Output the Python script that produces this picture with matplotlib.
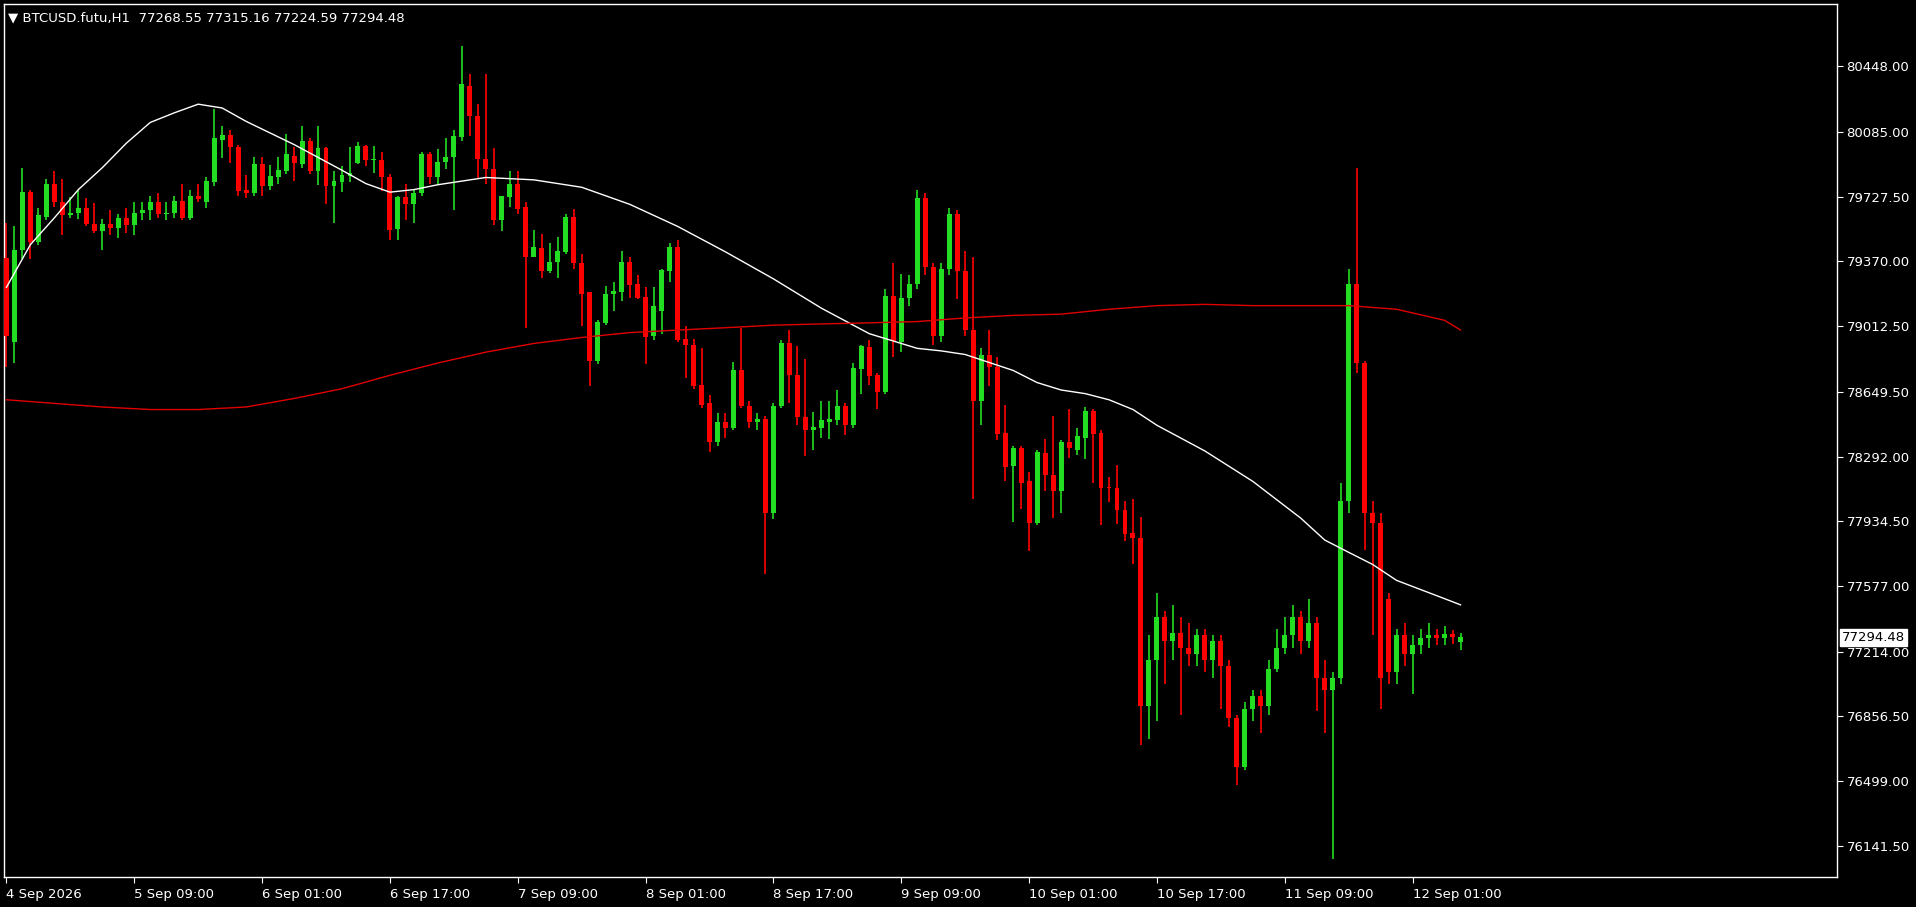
import matplotlib
matplotlib.use("Agg")
import matplotlib.pyplot as plt
import numpy as np

opens = [79389,78923,79436,79753,79476,79618,79800,79699,79625,79638,79665,79578,79537,79578,79557,79611,79571,79638,79652,79699,
79632,79638,79706,79611,79733,79699,79807,80043,80070,80003,79767,79746,79908,79787,79834,79868,79955,79908,80036,79868,
79996,79787,79807,79841,79915,80010,79928,79928,79834,79551,79726,79686,79746,79962,79834,79922,79949,80057,80340,80171,
79935,79881,79598,79726,79800,79672,79396,79443,79315,79369,79423,79618,79362,79200,78822,79031,79193,79200,79369,79247,
79173,78957,79099,79315,79450,78944,78910,78687,78586,78370,78485,78451,78768,78573,78485,78498,77979,78573,78917,78741,
78512,78438,78451,78485,78492,78573,78465,78775,78896,78741,78647,79180,78923,79166,79247,79719,79342,78957,79328,79632,
79315,78991,78600,78856,78789,78424,78242,78337,78155,77925,78310,78188,78101,78370,78330,78397,78546,78424,78121,78121,
77999,77871,77844,76913,77170,77406,77271,77318,77237,77204,77305,77170,77271,77136,76846,76576,76900,76967,76913,77116,
77237,77305,77406,77271,77372,77069,77001,77069,78047,79247,78809,77979,77925,77507,77102,77305,77204,77251,77291,77305,
77291,77311,77268.55]
highs = [79584,79564,79888,79767,79665,79827,79868,79827,79726,79767,79719,79692,79605,79652,79632,79665,79699,79699,79733,79746,
79699,79733,79800,79767,79800,79834,80212,80117,80097,80016,79848,79949,79949,79902,79949,80077,80003,80117,80050,80117,
80003,79868,79895,80003,80030,80016,80010,79976,79854,79733,79800,79773,79976,79976,79989,80050,80097,80562,80407,80239,
80407,79996,79733,79868,79868,79699,79544,79524,79470,79503,79632,79659,79409,79200,79045,79234,79254,79429,79396,79295,
79227,79227,79328,79470,79490,79011,78944,78890,78633,78532,78532,78816,79004,78600,78532,78519,78586,78937,78991,78903,
78829,78539,78600,78600,78660,78586,78809,78910,78937,78755,79220,79362,79301,79295,79767,79746,79362,79362,79665,79652,
79429,79396,78890,78991,78842,78579,78350,78350,78209,78330,78391,78519,78384,78553,78451,78566,78553,78438,78182,78243,
78047,78060,77959,77305,77541,77440,77473,77406,77372,77338,77338,77305,77305,77170,76866,76934,77001,77001,77170,77338,
77406,77473,77440,77507,77406,77170,77102,78148,79328,79888,78822,78047,77979,77541,77338,77372,77305,77338,77372,77338,
77358,77332,77315.16]
lows = [78789,78809,79383,79383,79463,79598,79672,79517,79611,79605,79564,79530,79436,79517,79497,79530,79517,79598,79598,79611,
79598,79611,79598,79598,79699,79665,79787,79942,79915,79733,79719,79733,79733,79767,79800,79854,79814,79888,79854,79794,
79686,79584,79753,79807,79908,79895,79861,79760,79490,79490,79598,79584,79733,79800,79800,79881,79652,80036,80063,79827,
79800,79571,79537,79672,79632,79004,79396,79281,79308,79281,79409,79328,79011,78681,78802,79018,79099,79153,79166,79160,
78802,78937,78971,79254,78923,78728,78667,78559,78316,78350,78397,78438,78559,78451,78438,77642,77946,78559,78586,78465,
78296,78330,78397,78391,78465,78411,78451,78640,78687,78553,78640,78842,78869,79126,79220,79295,78910,78923,79295,79160,
78957,78060,78465,78681,78384,78155,77932,78000,77770,77912,78101,77952,77979,78283,78303,78276,78148,77912,78040,77918,
77824,77696,76698,76731,76833,77035,77170,76866,77136,77136,77102,77069,76900,76799,76475,76563,76833,76765,76866,77102,
77204,77237,77204,77237,76887,76765,76070,77035,77979,78755,77777,77305,76900,77035,77035,77136,76981,77204,77237,77251,
77251,77258,77224.59]
closes = [78957,79436,79753,79476,79625,79800,79699,79625,79638,79665,79578,79537,79578,79557,79611,79571,79638,79652,79699,79632,
79638,79706,79611,79733,79713,79814,80050,80070,80003,79760,79746,79908,79787,79841,79875,79962,79915,80036,79868,79996,
79787,79814,79848,79861,80010,79928,79935,79834,79544,79726,79686,79746,79962,79834,79922,79949,80063,80353,80171,79935,
79881,79598,79733,79800,79659,79396,79450,79315,79369,79429,79618,79362,79193,78822,79038,79193,79207,79369,79240,79166,
78950,79126,79321,79450,78937,78910,78681,78579,78370,78485,78451,78768,78573,78485,78498,77979,78573,78917,78741,78512,
78438,78458,78492,78498,78573,78465,78782,78903,78735,78647,79180,78930,79166,79247,79719,79342,78957,79328,79632,79315,
78991,78600,78856,78789,78418,78236,78337,78148,77925,78316,78188,78101,78370,78337,78404,78546,78418,78121,78118,77999,
77865,77844,76913,77170,77406,77271,77318,77237,77204,77305,77170,77271,77136,76846,76576,76900,76967,76913,77116,77237,
77305,77406,77271,77372,77069,77001,77069,78047,79247,78809,77979,77925,77069,77102,77305,77204,77251,77291,77305,77291,
77311,77298,77294.48]

w_idx = [0,3,6,9,12,15,18,21,24,27,30,36,42,45,48,51,54,60,66,72,78,84,90,96,102,108,114,117,120,126,129,132,135,138,141,144,150,156,162,165,168,171,174,180,182]
ma_white = [79227,79463,79611,79767,79888,80023,80138,80191,80239,80218,80144,80016,79874,79800,79753,79767,79794,79834,79821,79780,
79686,79564,79423,79274,79112,78971,78890,78876,78856,78768,78701,78660,78640,78606,78552,78465,78323,78155,77952,77831,77763,77696,77608,77507,77473]
r_idx = [0,6,12,18,24,30,36,42,48,54,60,66,72,78,84,90,96,102,108,114,120,126,132,138,144,150,156,162,168,174,180,182]
ma_red = [78606,78586,78566,78552,78552,78566,78613,78667,78741,78809,78869,78917,78950,78977,78991,79004,79018,79025,79031,79038,
79058,79072,79079,79106,79126,79133,79126,79126,79126,79106,79045,78991]

y_ticks = [80448.00,80085.00,79727.50,79370.00,79012.50,78649.50,78292.00,77934.50,77577.00,77214.00,76856.50,76499.00,76141.50]
x_tick_idx = [0,16,32,48,64,80,96,112,128,144,160,176]
x_tick_labels = ['4 Sep 2026','5 Sep 09:00','6 Sep 01:00','6 Sep 17:00','7 Sep 09:00','8 Sep 01:00',
                 '8 Sep 17:00','9 Sep 09:00','10 Sep 01:00','10 Sep 17:00','11 Sep 09:00','12 Sep 01:00']
title = "BTCUSD.futu,H1  77268.55 77315.16 77224.59 77294.48"

GREEN = '#22dd22'
RED = '#ff0000'

fig = plt.figure(figsize=(19.16, 9.07), dpi=100, facecolor='black')
ax = fig.add_axes([0.0021, 0.033, 0.9566, 0.9625], facecolor='black')

o = np.array(opens, float); h = np.array(highs, float); l = np.array(lows, float); c = np.array(closes, float)
x = np.arange(len(c))
up = c >= o
cols = np.where(up, GREEN, RED)
ax.vlines(x, l, h, colors=cols, linewidth=1.2, zorder=2)
body_lo = np.minimum(o, c)
body_h = np.maximum(np.abs(c - o), 6)
ax.bar(x, body_h, bottom=body_lo, width=0.62, color=cols, linewidth=0, zorder=3)

ax.plot(w_idx, ma_white, color='white', linewidth=1.0, zorder=4)
ax.plot(r_idx, ma_red, color='#e00000', linewidth=1.0, zorder=4)

ax.set_xlim(-0.3, 229.1)
ax.set_ylim(75969, 80792)

for s in ax.spines.values():
    s.set_color('white'); s.set_linewidth(1)
ax.yaxis.tick_right()
ax.set_yticks(y_ticks)
ax.set_yticklabels([f"{v:.2f}" for v in y_ticks])
ax.set_xticks(x_tick_idx)
ax.set_xticklabels(x_tick_labels, ha='left')
ax.tick_params(axis='both', colors='white', labelsize=9.5, length=4, direction='out', pad=3)
ax.tick_params(axis='x', pad=4)

last = closes[-1]
ax.text(1.003, (last - 75969) / (80792 - 75969), f"{last:.2f}", transform=ax.transAxes,
        color='black', fontsize=9.5, va='center', ha='left',
        bbox=dict(boxstyle='square,pad=0.15', facecolor='white', edgecolor='white'))

ax.text(0.002, 0.992, "\u25BC " + title, transform=ax.transAxes, color='white', fontsize=9.5,
        va='top', ha='left')

fig.savefig('out.png', dpi=100, facecolor='black')
